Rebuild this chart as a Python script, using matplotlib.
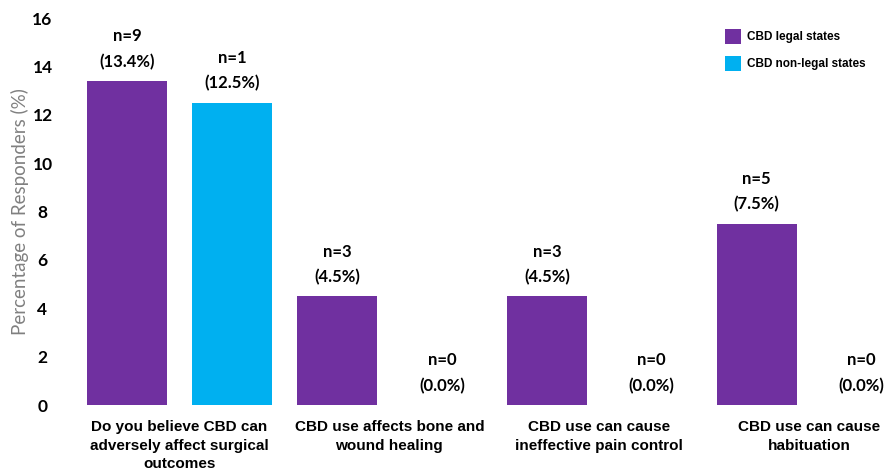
import numpy as np
import matplotlib.pyplot as plt

categories = ['Do you believe CBD can\nadversely affect surgical\noutcomes',
              'CBD use affects bone and\nwound healing',
              'CBD use can cause\nineffective pain control',
              'CBD use can cause\nhabituation']
legal_pct = [13.4, 4.5, 4.5, 7.5]
legal_n = [9, 3, 3, 5]
nonlegal_pct = [12.5, 0.0, 0.0, 0.0]
nonlegal_n = [1, 0, 0, 0]

purple = '#7030A0'
blue = '#00B0F0'

fig = plt.figure(figsize=(8.88, 4.70), dpi=100)
ax = fig.add_axes([0.0838, 0.138, 0.9162, 0.8237])

idx = np.arange(len(categories))
x_legal = idx * 2
x_non = idx * 2 + 1
w = 0.76

ax.bar(x_legal, legal_pct, width=w, color=purple, label='CBD legal states')
ax.bar(x_non, nonlegal_pct, width=w, color=blue, label='CBD non-legal states')

def label_bars(xs, pcts, ns):
    for x, p, n in zip(xs, pcts, ns):
        ax.annotate(f'n={n}\n({p:.1f}%)', xy=(x, p), xytext=(0, 8),
                    textcoords='offset points', ha='center', va='bottom',
                    fontsize=12, fontweight='bold', family='Lato',
                    linespacing=1.7)

label_bars(x_legal, legal_pct, legal_n)
# zero bars: labels sit just above the baseline
label_bars(x_non, nonlegal_pct, nonlegal_n)

ax.set_xlim(-0.5, 7.25)
ax.set_ylim(0, 16)
ax.set_yticks(np.arange(0, 17, 2))
for lbl in ax.get_yticklabels():
    lbl.set_fontweight('bold')
    lbl.set_family('Lato')
    lbl.set_fontsize(12.5)
    lbl.set_horizontalalignment('center')
ax.tick_params(axis='y', length=0, pad=23)

ax.set_xticks(idx * 2 + 0.5)
ax.set_xticklabels(categories, fontsize=11, fontweight='bold',
                   family='Liberation Sans', linespacing=1.38)
ax.tick_params(axis='x', length=0, pad=11)

ax.set_ylabel('Percentage of Responders (%)', fontsize=13.5, color='#808080',
              family='Lato')
ax.yaxis.set_label_coords(-0.056, 0.5)

for s in ax.spines.values():
    s.set_visible(False)

ax.legend(loc='upper right', bbox_to_anchor=(0.985, 1.0), frameon=False,
          prop={'family': 'Liberation Sans', 'weight': 'bold', 'size': 8.5},
          handlelength=1.3, handleheight=1.6, labelspacing=1.0, handletextpad=0.5)

fig.savefig('out.png', dpi=100)
